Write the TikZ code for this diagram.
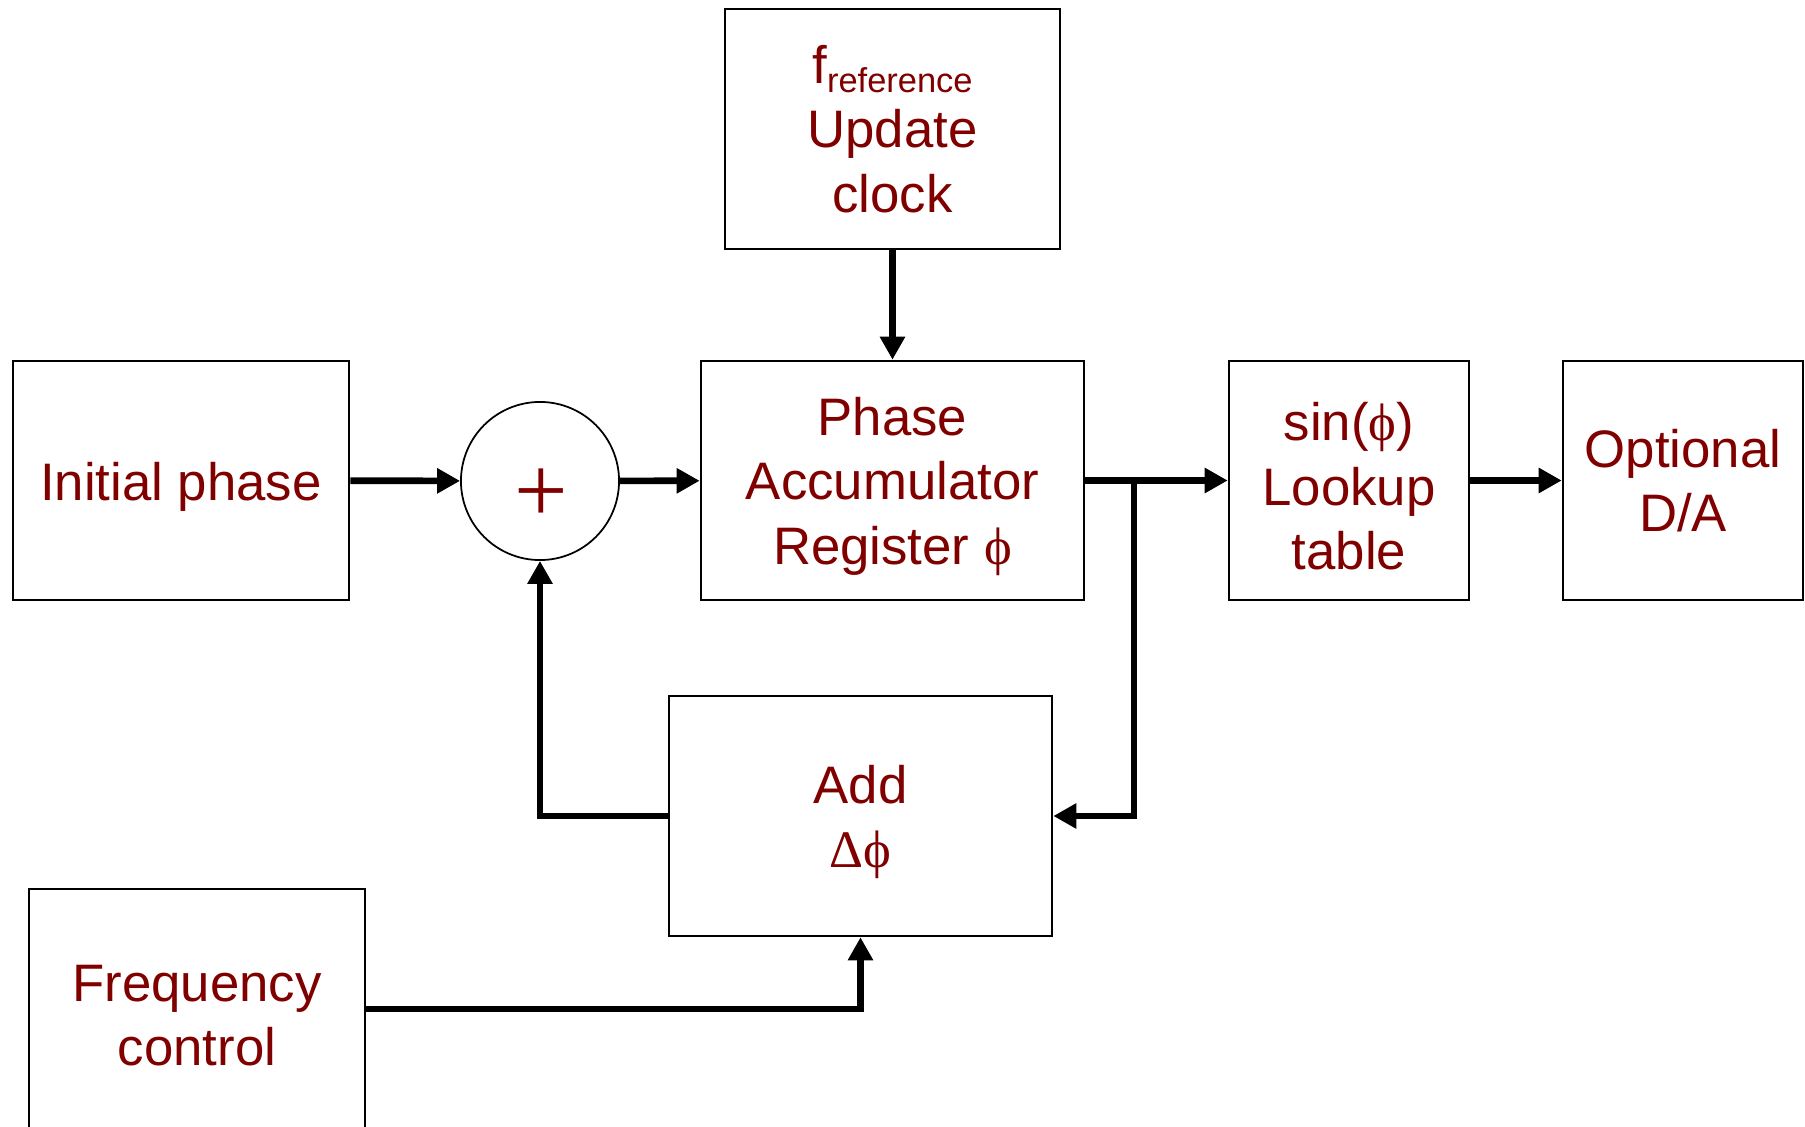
\documentclass[tikz,border=0pt]{standalone}
\usepackage{fontspec}
\setmainfont{Liberation Sans}
\newfontfamily\symbolfont{Liberation Serif}
\usepackage{tikz}
\usetikzlibrary{arrows.meta}
\definecolor{ddsRed}{HTML}{800000}
\definecolor{ddsInk}{HTML}{000000}
\newcommand{\phiglyph}{{\symbolfont ϕ}}
\newcommand{\deltaglyph}{{\symbolfont Δ}}
\newcommand{\liftline}{\rule{0pt}{14.2pt}}

\begin{document}
\begin{tikzpicture}[x=0.01cm, y=-0.01cm, line join=miter,
  block/.style={draw=ddsInk, line width=0.7pt, align=center, inner sep=0pt,
    text=ddsRed, font=\fontsize{15}{18.3}\selectfont},
  signal/.style={ddsInk, line width=1.9pt, -{Triangle[width=0.24cm,length=0.23cm]}}]
  % Page frame (bottom block runs off the page)
  \clip (0,0) rectangle (1805,1127);
  % Blocks
  \node[block, minimum width=3.35cm, minimum height=2.40cm] (clock) at (892.5,129)
    {f\raisebox{-2.6pt}{\fontsize{9.8}{10}\selectfont reference}\\Update\\clock};
  \node[block, minimum width=3.36cm, minimum height=2.39cm] (init) at (181,480.5)
    {\liftline Initial phase};
  \node[draw=ddsInk, line width=0.5pt, circle, minimum size=1.58cm, inner sep=0pt] (sum) at (540,481) {};
  \node[text=ddsRed, font=\fontsize{27}{27}\symbolfont, inner sep=0pt] (plus) at (541,496) {+};
  \node[block, minimum width=3.83cm, minimum height=2.39cm] (acc) at (892.5,480.5)
    {\liftline Phase\\Accumulator\\Register \phiglyph};
  \node[block, minimum width=2.40cm, minimum height=2.39cm] (lut) at (1349,480.5)
    {\liftline sin(\phiglyph)\\Lookup\\table};
  \node[block, minimum width=2.40cm, minimum height=2.39cm] (dac) at (1683,480.5)
    {Optional\\D/A};
  \node[block, minimum width=3.83cm, minimum height=2.40cm] (add) at (860.5,816)
    {\liftline Add\\\deltaglyph\phiglyph};
  \node[block, minimum width=3.36cm, minimum height=2.40cm] (freq) at (197,1009)
    {\liftline Frequency\\control};
  % Branch point on the accumulator output
  \coordinate (tap) at (1134,481);
  % Signal paths
  \draw[signal] (clock) -- (acc);
  \draw[signal] (init) -- (sum);
  \draw[signal] (sum) -- (acc);
  \draw[signal] (acc) -- (lut);
  \draw[signal] (lut) -- (dac);
  \draw[signal] (tap) |- (add.east);
  \draw[signal] (add.west) -| (sum.south);
  \draw[signal] (freq.east) -| (add.south);
\end{tikzpicture}
\end{document}
